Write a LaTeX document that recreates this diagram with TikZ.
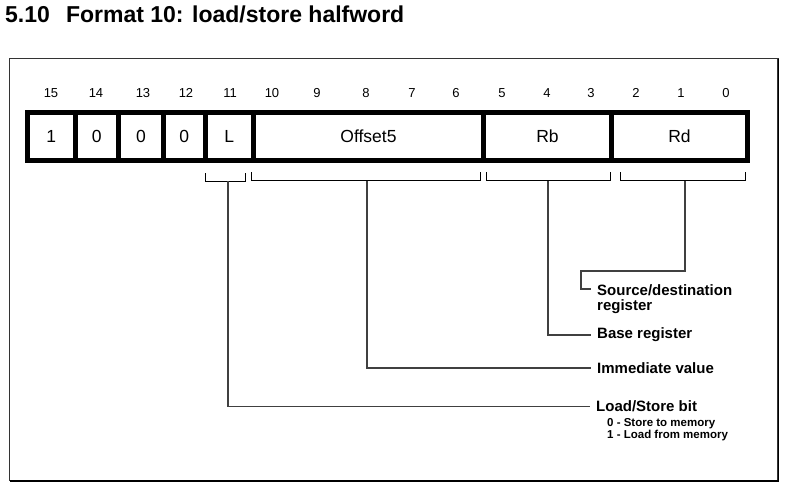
\documentclass[tikz,border=0pt]{standalone}
\usepackage{fontspec}
\setmainfont{Liberation Sans}
\usepackage{xcolor}
\usepackage{tikz}
\usetikzlibrary{positioning}
\usetikzlibrary{calc}

\begin{document}
\begin{tikzpicture}[
    x=1pt, y=-1pt,
    cell/.style={rectangle, draw=black, line width=5pt, outer sep=0pt, inner sep=0pt, minimum height=47pt, font=\fontsize{17.5}{17.5}\selectfont},
    bitnum/.style={inner sep=0pt, font=\fontsize{13}{13}\selectfont},
    lbl/.style={anchor=west, inner xsep=6pt, inner ysep=1pt, align=left, font=\fontsize{15}{15}\selectfont\bfseries},
    memtxt/.style={anchor=north west, inner sep=1pt, align=left, font=\fontsize{11.5}{12}\selectfont\bfseries},
    brk/.style={draw=black, line width=1pt},
    stem/.style={draw=black!75, line width=1.3pt}
]
\useasboundingbox (0,0) rectangle (788,487);

% frame and heading
\draw[black!80, line width=1.5pt] (9.5,58.5) rectangle (778,480.5);
\draw[black, line width=1.5pt] (778.5,59) -- (778.5,481) -- (10,481);
\node[anchor=base west, inner sep=0pt, font=\fontsize{23}{23}\selectfont\bfseries] (title) at (5,22.5) {5.10\hspace{0.7em}Format 10: load/store halfword};

% bit numbers
\foreach \n/\x in {15/51,14/96,13/143,12/186,11/230,10/272,9/317,8/366,7/412,6/456,5/502,4/547,3/591,2/636,1/681,0/726}
    \node[bitnum] (n\n) at (\x,93) {\n};

% instruction fields
\node[cell, minimum width=47.5pt] (b15) at (51.25,136.5) {1};
\node[cell, minimum width=43.5pt] (b14) [right=0pt of b15] {0};
\node[cell, minimum width=45pt] (b13) [right=0pt of b14] {0};
\node[cell, minimum width=41.5pt] (b12) [right=0pt of b13] {0};
\node[cell, minimum width=48.5pt] (fL) [right=0pt of b12] {L};
\node[cell, minimum width=230pt] (fOff) [right=0pt of fL] {Offset5};
\node[cell, minimum width=128pt] (fRb) [right=0pt of fOff] {Rb};
\node[cell, minimum width=136pt] (fRd) [right=0pt of fRb] {Rd};

% brackets under the fields
\draw[brk] (205,173) -- (205,181) -- (245,181) -- (245,173);
\draw[brk] (251,172) -- (251,180.5) -- (480,180.5) -- (480,172);
\draw[brk] (486,172) -- (486,180.5) -- (610,180.5) -- (610,172);
\draw[brk] (620,172) -- (620,180.5) -- (745,180.5) -- (745,172);
\coordinate (sL) at (228,181);
\coordinate (sOff) at (367,180.5);
\coordinate (sRb) at (548,180.5);
\coordinate (sRd) at (685,180.5);

% labels
\node[lbl, anchor=north west] (src) at (591,283.5) {Source/destination\\register};
\node[lbl] (base) at (591,335) {Base register};
\node[lbl] (imm) at (591,368) {Immediate value};
\node[lbl] (ls) at (590,406.5) {Load/Store bit};
\node[memtxt] (mem) at (606,417.5) {0 - Store to memory\\1 - Load from memory};

\draw[stem] (sRd) -- (685,271) -| (581,289) -- ([yshift=-5.5pt]src.north west);
\draw[stem] (sRb) |- (base.west);
\draw[stem] (sOff) |- (imm.west);
\draw[stem] (sL) |- (ls.west);
\end{tikzpicture}
\end{document}
